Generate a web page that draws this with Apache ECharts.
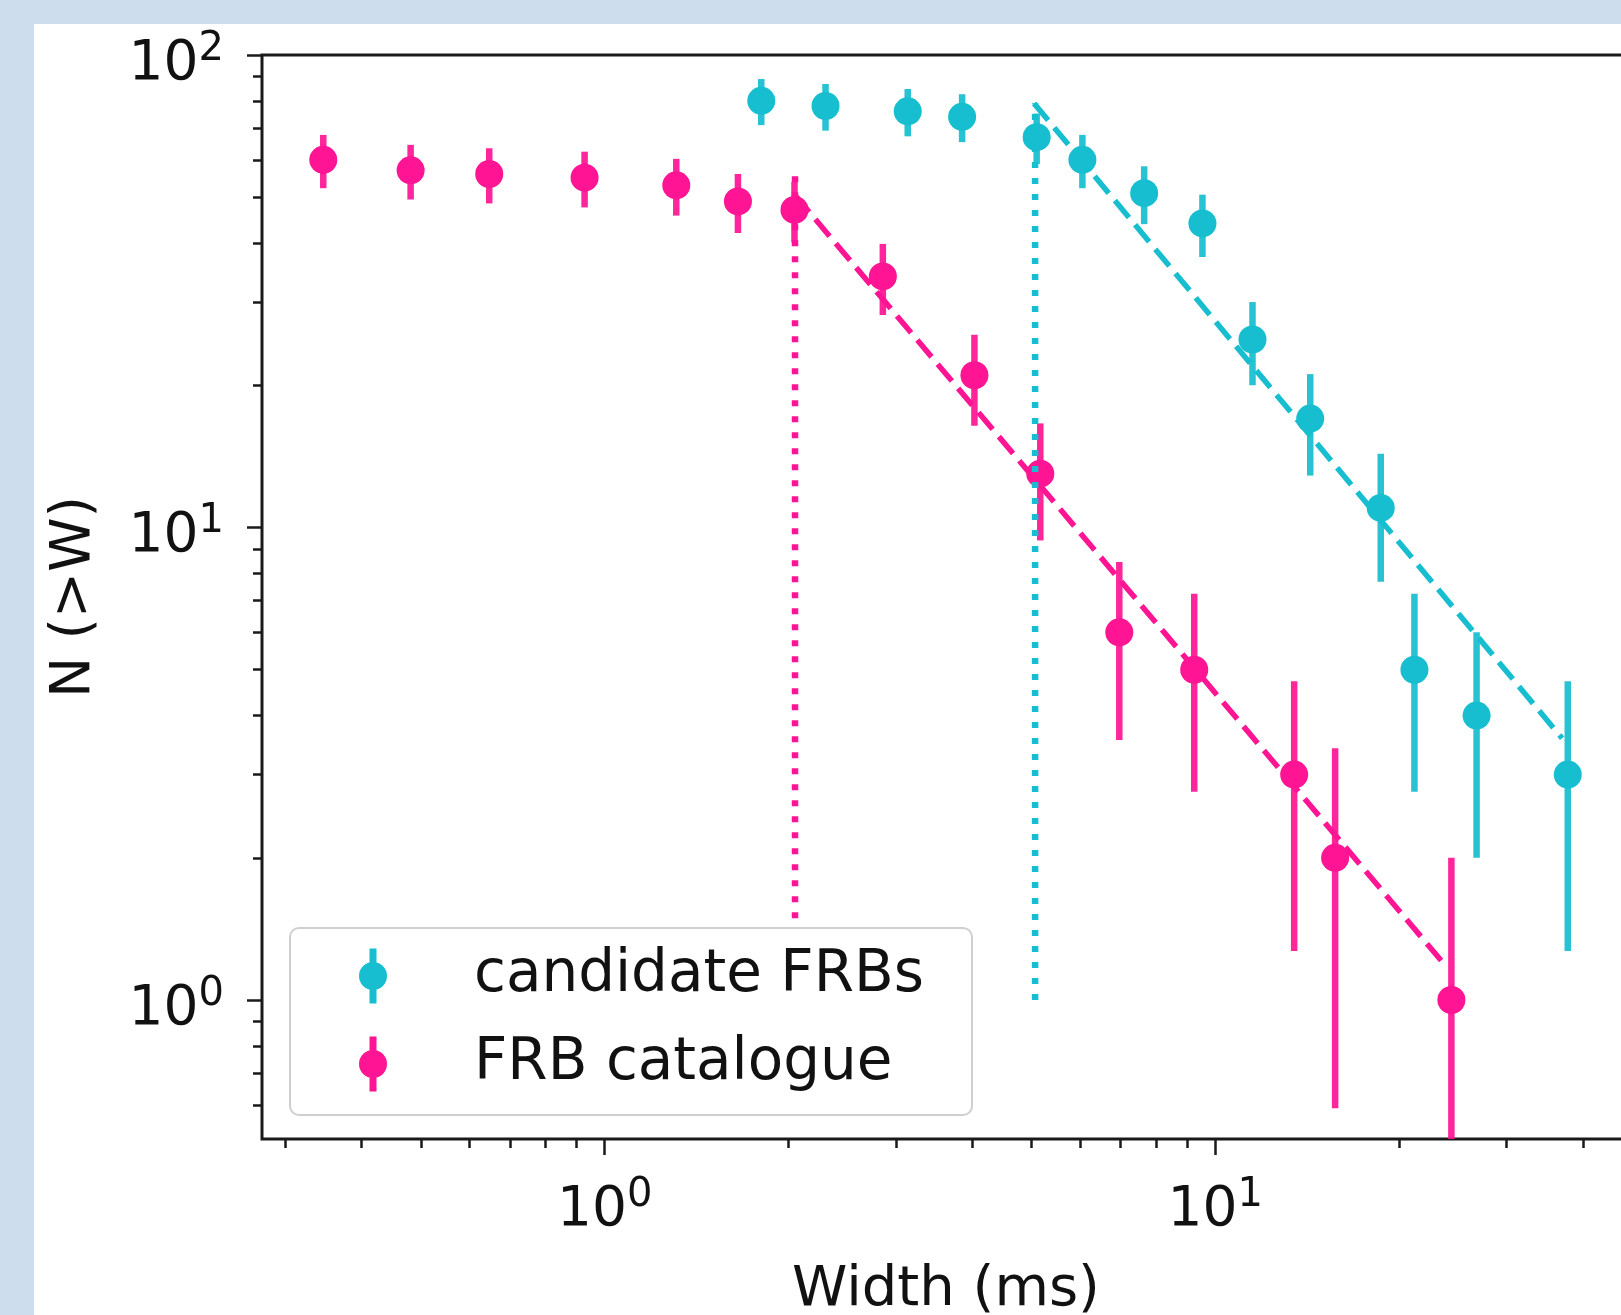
<!DOCTYPE html>
<html><head><meta charset="utf-8">
<script src="https://cdn.jsdelivr.net/npm/echarts@6/dist/echarts.min.js"></script>
<style>
html,body{margin:0;padding:0;background:#cedded;overflow:hidden;width:1621px;height:1315px;position:relative}
#c{position:absolute;left:34px;top:24px;width:1600px;height:1291px;background:#ffffff}
</style></head><body><div id="c"></div>
<script>
// ---- data ----
const cyanW   = [1.805, 2.30, 3.136, 3.85, 5.10, 6.06, 7.65, 9.53, 11.51, 14.31, 18.67, 21.2, 26.8, 37.8];
const cyanN   = [80, 78, 76, 74, 67, 60, 51, 44, 25, 17, 11, 5, 4, 3];
const cyanErr = [8.94, 8.83, 8.72, 8.60, 8.19, 7.75, 7.14, 6.63, 5.00, 4.12, 3.32, 2.24, 2.00, 1.73];
const pinkW   = [0.346, 0.481, 0.647, 0.927, 1.31, 1.653, 2.046, 2.855, 4.033, 5.17, 6.965, 9.24, 13.47, 15.72, 24.37];
const pinkN   = [60, 57, 56, 55, 53, 49, 47, 34, 21, 13, 6, 5, 3, 2, 1];
const pinkErr = [7.75, 7.55, 7.48, 7.42, 7.28, 7.00, 6.86, 5.83, 4.58, 3.61, 2.45, 2.24, 1.73, 1.41, 1.00];
const cyanFitW = [5.05, 37.0];  const cyanFitN = [79, 3.58];
const pinkFitW = [2.05, 24.0];  const pinkFitN = [50.5, 1.17];
const cyanBreakW = [5.07, 5.07]; const cyanBreakN = [1.0, 79];
const pinkBreakW = [2.05, 2.05]; const pinkBreakN = [1.49, 57];
const xMajorTicks = [1, 10];
const xMinorTicks = [0.3, 0.4, 0.5, 0.6, 0.7, 0.8, 0.9, 2, 3, 4, 5, 6, 7, 8, 9, 20, 30, 40];
const yMajorTicks = [1, 10, 100];
const yMinorTicks = [0.6, 0.7, 0.8, 0.9, 2, 3, 4, 5, 6, 7, 8, 9, 20, 30, 40, 50, 60, 70, 80, 90];
const seriesNames = ['candidate FRBs', 'FRB catalogue'];
const xMin = 0.2746, xMax = 47.8, yMin = 0.508, yMax = 100;

const CYAN = '#17becf', PINK = '#ff1493';
const FONT = 'DejaVu Sans';
const zip = (a, b) => a.map((v, i) => [v, b[i]]);

function errSeries(name, W, N, E, color) {
  return {
    name: name, type: 'custom', xAxisIndex: 0, yAxisIndex: 0, clip: true,
    data: W.map((w, i) => [w, N[i], E[i]]),
    encode: { x: 0, y: 1 },
    renderItem: function (params, api) {
      const x = api.value(0), n = api.value(1), e = api.value(2);
      const lo = (n - e) > yMin ? (n - e) : yMin;
      const p1 = api.coord([x, n + e]);
      const p2 = api.coord([x, lo]);
      return { type: 'line', shape: { x1: p1[0], y1: p1[1], x2: p2[0], y2: p2[1] },
               style: { stroke: color, lineWidth: 6.5, opacity: 0.93 } };
    },
    z: 2
  };
}
function expOf(v) { return Math.round(Math.log10(v)); }
function xLabelFmt(v) { return '{g| }{b|10}{s|' + expOf(v) + '}'; }
function yLabelFmt(v) { return '{g| }{b|10}{s|' + expOf(v) + '}\n{h| }'; }
const rich = {
  g: { fontSize: 1, lineHeight: 85, verticalAlign: 'top' },
  h: { fontSize: 1, lineHeight: 11 },
  b: { fontSize: 55, fontFamily: FONT, color: '#111', lineHeight: 56, verticalAlign: 'bottom' },
  s: { fontSize: 40, fontFamily: FONT, color: '#111', verticalAlign: 'middle' }
};
const tickStyle = { color: '#1a1a1a', width: 2.5 };

const option = {
  animation: false,
  grid: { left: 228, top: 31, right: 4, bottom: 176, outerBoundsMode: 'none', containLabel: false,
          show: true, borderColor: '#1a1a1a', borderWidth: 3, backgroundColor: 'transparent' },
  xAxis: [
    { type: 'log', logBase: 10, min: xMin, max: xMax, position: 'bottom',
      name: 'Width (ms)', nameLocation: 'middle', nameGap: 123,
      nameTextStyle: { fontSize: 56, fontFamily: FONT, color: '#111' },
      axisLine: { show: false }, splitLine: { show: false },
      axisTick: { show: true, inside: false, length: 16, lineStyle: tickStyle, customValues: xMajorTicks },
      axisLabel: { show: true, margin: 14, customValues: xMajorTicks, formatter: xLabelFmt, rich: rich } },
    { type: 'log', logBase: 10, min: xMin, max: xMax, position: 'bottom',
      axisLine: { show: false }, splitLine: { show: false }, axisLabel: { show: false },
      axisTick: { show: true, inside: false, length: 9, lineStyle: tickStyle, customValues: xMinorTicks } }
  ],
  yAxis: [
    { type: 'log', logBase: 10, min: yMin, max: yMax, position: 'left',
      name: 'N (>W)', nameLocation: 'middle', nameGap: 160, nameRotate: 90,
      nameTextStyle: { fontSize: 55, fontFamily: FONT, color: '#111' },
      axisLine: { show: false }, splitLine: { show: false },
      axisTick: { show: true, inside: false, length: 15, lineStyle: tickStyle, customValues: yMajorTicks },
      axisLabel: { show: true, margin: 38, customValues: yMajorTicks, formatter: yLabelFmt, rich: rich } },
    { type: 'log', logBase: 10, min: yMin, max: yMax, position: 'left',
      axisLine: { show: false }, splitLine: { show: false }, axisLabel: { show: false },
      axisTick: { show: true, inside: false, length: 9, lineStyle: tickStyle, customValues: yMinorTicks } }
  ],
  legend: {
    orient: 'vertical', left: 256, top: 904, selectedMode: false,
    data: seriesNames,
    icon: 'path://M10.5,0L17.5,0L17.5,55L10.5,55Z M14,13.5A14,14 0 1,1 14,41.5A14,14 0 1,1 14,13.5Z',
    itemWidth: 28, itemHeight: 55, itemGap: 30,
    padding: [19, 48, 22, 69],
    borderColor: '#cfcfcf', borderWidth: 2, borderRadius: 9, backgroundColor: 'rgba(255,255,255,0.85)',
    textStyle: { fontSize: 58, fontFamily: FONT, color: '#111', padding: [0, 0, 0, 82], lineHeight: 55 }
  },
  series: [
    errSeries('cyanErr', cyanW, cyanN, cyanErr, CYAN),
    { name: seriesNames[0], type: 'scatter', xAxisIndex: 0, yAxisIndex: 0, data: zip(cyanW, cyanN),
      symbol: 'circle', symbolSize: 28, itemStyle: { color: CYAN, opacity: 1 }, z: 3 },
    errSeries('pinkErr', pinkW, pinkN, pinkErr, PINK),
    { name: seriesNames[1], type: 'scatter', xAxisIndex: 0, yAxisIndex: 0, data: zip(pinkW, pinkN),
      symbol: 'circle', symbolSize: 28, itemStyle: { color: PINK, opacity: 1 }, z: 3 },
    { name: 'cyanFit', type: 'line', xAxisIndex: 0, yAxisIndex: 0, data: zip(cyanFitW, cyanFitN), symbol: 'none',
      lineStyle: { color: CYAN, width: 5.5, type: [22, 9.6] }, z: 4 },
    { name: 'pinkFit', type: 'line', xAxisIndex: 0, yAxisIndex: 0, data: zip(pinkFitW, pinkFitN), symbol: 'none',
      lineStyle: { color: PINK, width: 5.5, type: [22, 9.6] }, z: 4 },
    { name: 'cyanBreak', type: 'line', xAxisIndex: 0, yAxisIndex: 0, data: zip(cyanBreakW, cyanBreakN), symbol: 'none',
      lineStyle: { color: CYAN, width: 6.5, type: [6, 10] }, z: 4 },
    { name: 'pinkBreak', type: 'line', xAxisIndex: 0, yAxisIndex: 0, data: zip(pinkBreakW, pinkBreakN), symbol: 'none',
      lineStyle: { color: PINK, width: 6.5, type: [6, 10] }, z: 4 }
  ]
};
const chart = echarts.init(document.getElementById('c'), null, { renderer: 'canvas' });
chart.setOption(option);
</script></body></html>
